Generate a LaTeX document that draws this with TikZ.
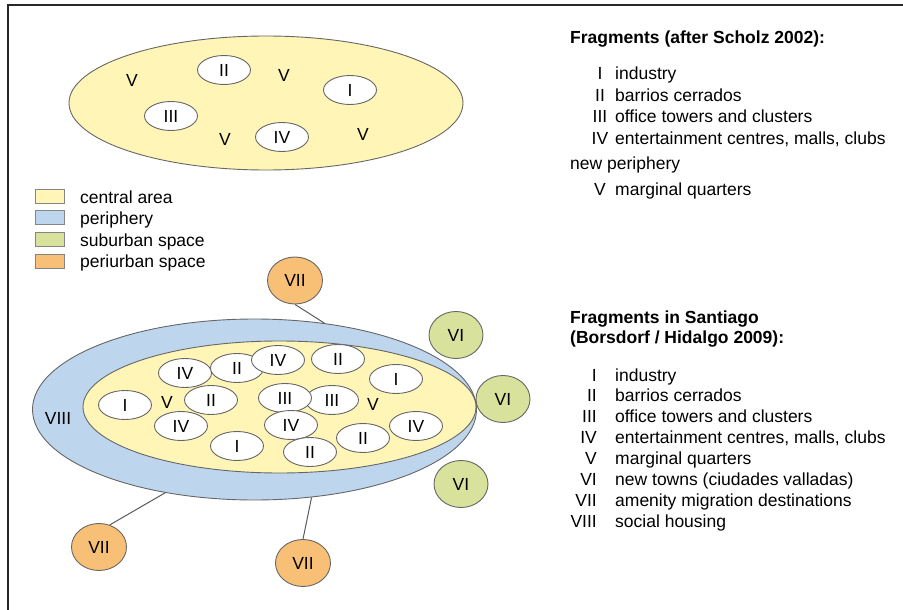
\documentclass[tikz,border=0pt]{standalone}
\usepackage{fontspec}
\setmainfont{Liberation Sans}
\usetikzlibrary{shapes.geometric}

\definecolor{centralfill}{RGB}{255,245,182}
\definecolor{peripheryfill}{RGB}{189,214,238}
\definecolor{suburbfill}{RGB}{216,226,156}
\definecolor{periurbfill}{RGB}{248,191,118}
\definecolor{outline}{RGB}{102,102,102}
\definecolor{linkgray}{RGB}{90,90,90}
\definecolor{framegray}{RGB}{40,40,40}

\begin{document}
\begin{tikzpicture}[x=1pt,y=-1pt,
  font=\fontsize{17.5}{21}\selectfont,
  zone/.style={ellipse, draw=outline, line width=0.9pt, inner sep=0pt},
  frag/.style={ellipse, draw=outline, line width=0.9pt, fill=white,
    minimum width=53pt, minimum height=29pt, inner sep=0pt},
  suburb/.style={ellipse, draw=outline, line width=0.9pt, fill=suburbfill,
    minimum width=54pt, minimum height=47pt, inner sep=0pt},
  periurb/.style={ellipse, draw=outline, line width=0.9pt, fill=periurbfill,
    minimum width=55pt, minimum height=47pt, inner sep=0pt},
  link/.style={draw=linkgray, line width=1pt},
  lbl/.style={inner sep=0pt},
  keybox/.style={rectangle, draw=outline!80, line width=0.9pt,
    minimum width=29pt, minimum height=14pt, inner sep=0pt},
  numc/.style={anchor=base, inner sep=0pt},
  numr/.style={anchor=base east, inner sep=0pt},
  txt/.style={anchor=base west, inner sep=0pt},
  head/.style={anchor=base west, inner sep=0pt, font=\fontsize{17.5}{21}\selectfont\bfseries}
]
\useasboundingbox (0,0) rectangle (903,610);

% frame
\draw[framegray, line width=1.2pt] (8,610) -- (8,5) -- (903,5);

% ---------- model after Scholz ----------
\node[zone, fill=centralfill, minimum width=394pt, minimum height=134pt] (cityA) at (266,103) {};
\node[frag] (a2) at (224,70) {II};
\node[frag] (a3) at (171,116) {III};
\node[frag] (a1) at (350,90) {I};
\node[frag] (a4) at (282,137) {IV};
\node[lbl] (av1) at (132,80) {V};
\node[lbl] (av2) at (284,75) {V};
\node[lbl] (av3) at (225,139) {V};
\node[lbl] (av4) at (363,134) {V};

% ---------- legend ----------
\node[keybox, fill=centralfill]  (k1) at (49.5,196) {};
\node[keybox, fill=peripheryfill] (k2) at (49.5,217.5) {};
\node[keybox, fill=suburbfill]   (k3) at (49.5,239) {};
\node[keybox, fill=periurbfill]  (k4) at (49.5,261) {};
\node[txt] (kt1) at (80,203) {central area};
\node[txt] (kt2) at (80,224.5) {periphery};
\node[txt] (kt3) at (80,246) {suburban space};
\node[txt] (kt4) at (80,267.5) {periurban space};

% ---------- Santiago ----------
\node[zone, fill=peripheryfill, minimum width=444pt, minimum height=181pt] (outer) at (254.5,409.5) {};
\node[zone, fill=centralfill, minimum width=393pt, minimum height=132pt] (inner) at (279.5,407) {};

\node[frag] (b1)  at (185,373) {IV};
\node[frag] (b2)  at (237,368) {II};
\node[frag] (b3)  at (278,360) {IV};
\node[frag] (b4)  at (338,359) {II};
\node[frag] (b5)  at (396,379) {I};
\node[frag] (b6)  at (125,405) {I};
\node[frag] (b7)  at (211,400) {II};
\node[frag] (b8)  at (332,400) {III};
\node[frag] (b9)  at (285,398) {III};
\node[frag] (b10) at (181,426) {IV};
\node[frag] (b11) at (291,425) {IV};
\node[frag] (b12) at (237,446) {I};
\node[frag] (b13) at (310,452) {II};
\node[frag] (b14) at (363,438) {II};
\node[frag] (b15) at (416,426) {IV};
\node[lbl] (bv1) at (167,402) {V};
\node[lbl] (bv2) at (373,404) {V};
\node[lbl] (b8lbl) at (58,418) {VIII};

% new towns
\node[suburb] (vi1) at (456,335) {VI};
\node[suburb] (vi2) at (503,399) {VI};
\node[suburb] (vi3) at (461,484) {VI};

% amenity migration destinations
\node[periurb] (vii1) at (295,280.5) {VII};
\node[periurb] (vii2) at (99,547) {VII};
\node[periurb] (vii3) at (303,563) {VII};

\draw[link] (vii1.south) -- (outer.51.5);
\draw[link] (vii2.64) -- (outer.223.7);
\draw[link] (vii3.north) -- (outer.303.3);

% ---------- key: Scholz ----------
\node[head] (h1) at (570,44) {Fragments (after Scholz 2002):};
\node[numc] (n1) at (600,80) {I};
\node[numc] (n2) at (600,101.5) {II};
\node[numc] (n3) at (600,122.7) {III};
\node[numc] (n4) at (600,144) {IV};
\node[txt]  (t1) at (615,80) {industry};
\node[txt]  (t2) at (615,101.5) {barrios cerrados};
\node[txt]  (t3) at (615,122.7) {office towers and clusters};
\node[txt]  (t4) at (615,144) {entertainment centres, malls, clubs};
\node[txt]  (np) at (570,169.5) {new periphery};
\node[numc] (n5) at (600,195) {V};
\node[txt]  (t5) at (615,195) {marginal quarters};

% ---------- key: Santiago ----------
\node[head] (h2) at (570,323) {Fragments in Santiago};
\node[head] (h3) at (570,343) {(Borsdorf / Hidalgo 2009):};
\node[numr] (m1) at (597,381)   {I};
\node[numr] (m2) at (597,401.9) {II};
\node[numr] (m3) at (597,422.7) {III};
\node[numr] (m4) at (597,443.6) {IV};
\node[numr] (m5) at (597,464.4) {V};
\node[numr] (m6) at (597,485.3) {VI};
\node[numr] (m7) at (597,506.1) {VII};
\node[numr] (m8) at (597,527)   {VIII};
\node[txt] (s1) at (615,381)   {industry};
\node[txt] (s2) at (615,401.9) {barrios cerrados};
\node[txt] (s3) at (615,422.7) {office towers and clusters};
\node[txt] (s4) at (615,443.6) {entertainment centres, malls, clubs};
\node[txt] (s5) at (615,464.4) {marginal quarters};
\node[txt] (s6) at (615,485.3) {new towns (ciudades valladas)};
\node[txt] (s7) at (615,506.1) {amenity migration destinations};
\node[txt] (s8) at (615,527)   {social housing};
\end{tikzpicture}
\end{document}
